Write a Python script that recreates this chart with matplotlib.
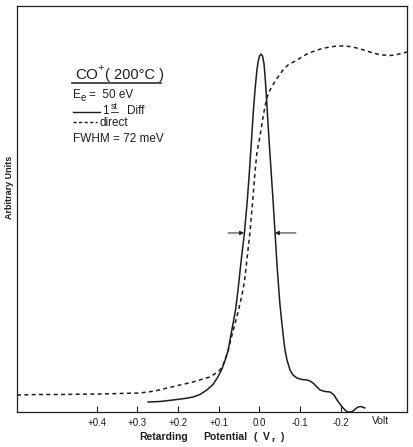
import matplotlib
matplotlib.use("Agg")
import matplotlib.pyplot as plt

plt.rcParams['font.family'] = ['Liberation Sans', 'DejaVu Sans']

# ---- data (retarding potential in Volt, arbitrary units) ----
diff_v = [0.274, 0.244, 0.212, 0.183, 0.163, 0.146, 0.129, 0.114, 0.102, 0.092,
          0.084, 0.077, 0.0721, 0.0585, 0.0524, 0.0450, 0.0364, 0.0295, 0.0241, 0.0192,
          0.0148, 0.0106, 0.0064, 0.0032, -0.0005, -0.0042, -0.0079, -0.0116, -0.0148, -0.0172,
          -0.0209, -0.0239, -0.0288, -0.0337, -0.0386, -0.0435, -0.0504, -0.0546, -0.0595, -0.0632,
          -0.0681, -0.0755, -0.0829, -0.0927, -0.1050, -0.1173, -0.1247, -0.1321,
          -0.1419, -0.1493, -0.1616, -0.1739, -0.1838, -0.1911, -0.1985, -0.2059, -0.2133, -0.2182,
          -0.2256, -0.2305, -0.2379, -0.2428, -0.2502, -0.2600]
diff_y = [2.46, 2.59, 2.96, 3.33, 3.69, 4.31, 5.42, 6.77, 8.62, 10.59,
          12.81, 15.02, 17.73, 25.12, 30.05, 36.95, 44.33, 52.22, 59.61, 67.0,
          73.89, 79.31, 83.74, 86.21, 87.68, 88.18, 87.68, 85.71, 81.77, 78.08,
          71.92, 67.0, 59.61, 52.22, 44.33, 36.21, 26.85, 22.66, 18.23, 15.27,
          12.81, 10.34, 9.11, 8.37, 8.0, 7.88, 7.64, 7.14,
          6.16, 5.42, 5.05, 4.93, 4.19, 2.96, 1.97, 0.99, 0.25, 0.0,
          0.0, 0.25, 0.86, 1.23, 1.35, 0.99]

direct_v = [0.5961, 0.5395, 0.4903, 0.4411, 0.3919, 0.3427, 0.2935, 0.2566, 0.2271, 0.1951,
            0.1631, 0.1385, 0.1213, 0.1065, 0.0967, 0.0893, 0.0844, 0.0770, 0.0721, 0.0647,
            0.0573, 0.0500, 0.0426, 0.0364, 0.0303, 0.0229, 0.0167, 0.0106, 0.0057, -0.0017,
            -0.0091, -0.0182, -0.0263, -0.0362, -0.0460, -0.0583, -0.0706, -0.0927, -0.1173, -0.1419,
            -0.1665, -0.1911, -0.2108, -0.2305, -0.2526, -0.2723, -0.2895, -0.3043, -0.3215, -0.3338,
            -0.3486, -0.3633]
direct_y = [4.19, 4.31, 4.31, 4.38, 4.43, 4.56, 4.68, 5.17, 5.91, 6.65,
            7.39, 8.13, 8.62, 9.61, 10.34, 11.58, 12.81, 15.02, 17.0, 19.95,
            22.66, 25.62, 28.82, 32.27, 37.68, 44.33, 51.48, 59.11, 64.04, 67.98,
            72.66, 77.34, 79.31, 81.03, 82.51, 84.24, 85.47, 86.70, 88.18, 89.16,
            89.78, 90.15, 90.15, 89.90, 89.29, 88.67, 88.18, 87.93, 87.81, 87.93,
            88.30, 88.67]

tick_vals = [0.4, 0.3, 0.2, 0.1, 0.0, -0.1, -0.2]
tick_labels = ["+0.4", "+0.3", "+0.2", "+0.1", "0.0", "-0.1", "-0.2"]

fwhm_y = 44.1
fwhm_left = (0.077, 0.0376)    # tail, tip
fwhm_right = (-0.0903, -0.0386)

W, H = 414, 447
INK = "#1e1e1e"
fig = plt.figure(figsize=(W / 100, H / 100), dpi=100)
ax = fig.add_axes([17 / W, (H - 412) / H, 390 / W, 406 / H])

ax.plot(diff_v, diff_y, color=INK, lw=1.1, solid_capstyle='round')
ax.plot(direct_v, direct_y, color=INK, lw=1.1, dashes=(2.6, 2.2))

for tail, tip in (fwhm_left, fwhm_right):
    ax.annotate("", xy=(tip, fwhm_y), xytext=(tail, fwhm_y),
                arrowprops=dict(arrowstyle='-|>', color=INK, lw=0.7,
                                mutation_scale=6, shrinkA=0, shrinkB=0))

ax.set_xlim(0.5961, -0.3633)
ax.set_ylim(0, 100)
ax.set_xticks(tick_vals)
ax.set_xticklabels(tick_labels)
ax.set_yticks([])
ax.tick_params(axis='x', direction='in', length=4, width=0.8, pad=4,
               labelsize=7, colors=INK)
for s in ax.spines.values():
    s.set_linewidth(0.9)
    s.set_color(INK)


def T(px, py, s, size, **kw):
    kw.setdefault('va', 'baseline')
    kw.setdefault('ha', 'left')
    fig.text(px / W, 1 - py / H, s, fontsize=size, color=INK, **kw)


def L(x0, x1, y, **kw):
    fig.add_artist(plt.Line2D([x0 / W, x1 / W], [1 - y / H, 1 - y / H],
                              color=INK, **kw))


# annotation block
T(75, 79, "CO", 11)
T(97.5, 71.5, "+", 8)
T(105, 79, "( 200°C )", 10.5)
L(72, 161, 83.5, lw=1.1)
T(73, 98, "E", 8.5)
T(81, 101, "e", 7)
T(89, 98, "=  50 eV", 8.5)
L(73, 100, 111.5, lw=1.0)
T(102.5, 114.5, "1", 8.5)
T(111, 109, "st", 6.5)
L(111, 118, 111.5, lw=0.6)
T(127, 114.5, "Diff", 8.5)
L(73, 97, 122, lw=1.0, dashes=(2.3, 1.7))
T(100, 126.2, "direct", 8.5)
T(73, 142, "FWHM = 72 meV", 8.5)

# axis texts
T(372, 424, "Volt", 7.5)
T(139, 440, "Retarding", 7.5, weight='bold')
T(203, 440, "Potential", 7.5, weight='bold')
T(254, 440, "(", 7.5, weight='bold')
T(263, 440, "V", 7.5, weight='bold')
T(271.5, 442.5, "r", 6, weight='bold')
T(280, 440, ")", 7.5, weight='bold')
T(10, 187, "Arbitrary Units", 6.5, weight='bold', rotation=90, ha='center', va='center')

fig.savefig("out.png", dpi=100)
